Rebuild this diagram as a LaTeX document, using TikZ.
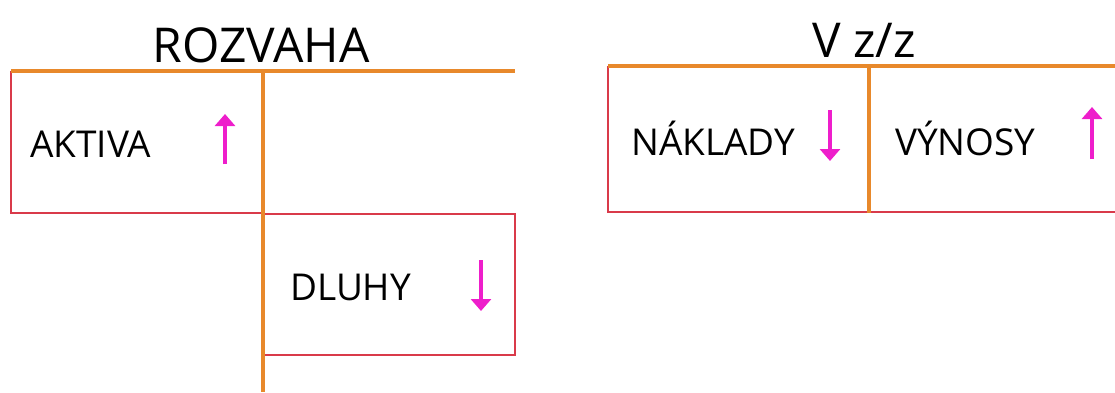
\documentclass[tikz,border=0pt]{standalone}
\usepackage{fontspec}
\setmainfont{Open Sans}
\usetikzlibrary{arrows.meta}
\definecolor{tor}{HTML}{E8892B}
\definecolor{tred}{HTML}{D93A4A}
\definecolor{tmag}{HTML}{EE1ECB}
\tikzset{
  orl/.style={draw=tor,line width=3.6pt},
  redl/.style={draw=tred,line width=2.8pt},
  lbl/.style={anchor=base west,inner sep=0pt,font=\fontsize{37}{40}\selectfont},
  ttl/.style={anchor=base,inner sep=0pt,font=\fontsize{48}{52}\selectfont},
  arr/.style={draw=tmag,line width=4.6pt,-{Triangle[width=20pt,length=12pt]}}
}
\begin{document}
\begin{tikzpicture}[x=1pt,y=-1pt]
\useasboundingbox (0,0) rectangle (1115,392);
% left T account
\draw[redl] (263,213) -- (11,213) -- (11,71);
\draw[redl] (263,214) -- (515,214) -- (515,355) -- (263,355);
\draw[orl] (11,71) -- (515,71);
\draw[orl] (263,71) -- (263,392);
\node[ttl] (t1) at (261,62) {ROZVAHA};
\node[lbl] (aktiva) at (30,157) {AKTIVA};
\coordinate (a1s) at (225,164);
\coordinate (a1e) at (225,114);
\draw[arr] (a1s) -- (a1e);
\node[lbl] (dluhy) at (290,300) {DLUHY};
\coordinate (a2s) at (481,260);
\coordinate (a2e) at (481,311);
\draw[arr] (a2s) -- (a2e);
% right T account
\draw[redl] (1115,212) -- (608,212) -- (608,66);
\draw[orl] (608,66) -- (1115,66);
\draw[orl] (869,66) -- (869,213);
\node[ttl] (t2) at (864,57) {V z/z};
\node[lbl] (naklady) at (631,155) {NÁKLADY};
\coordinate (a3s) at (830,110);
\coordinate (a3e) at (830,161);
\draw[arr] (a3s) -- (a3e);
\node[lbl] (vynosy) at (895,155) {VÝNOSY};
\coordinate (a4s) at (1092,159);
\coordinate (a4e) at (1092,107);
\draw[arr] (a4s) -- (a4e);
\end{tikzpicture}
\end{document}
